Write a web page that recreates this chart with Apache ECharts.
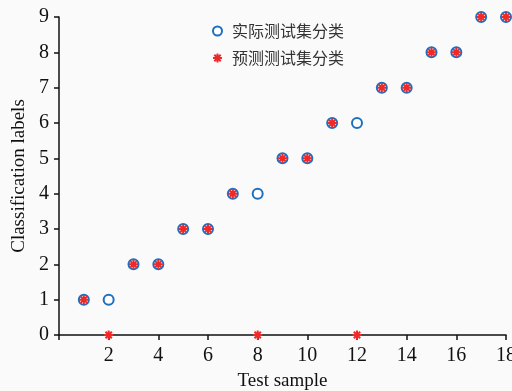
<!DOCTYPE html>
<html>
<head>
<meta charset="utf-8">
<script src="https://cdn.jsdelivr.net/npm/echarts@6/dist/echarts.min.js"></script>
<style>
  html, body { margin: 0; padding: 0; background: #fafafa; }
  #chart { width: 512px; height: 391px; }
</style>
</head>
<body>
<div id="chart"></div>
<script>
// test samples and their classes
var samples = [1, 2, 3, 4, 5, 6, 7, 8, 9, 10, 11, 12, 13, 14, 15, 16, 17, 18];
var actualClass = [1, 1, 2, 2, 3, 3, 4, 4, 5, 5, 6, 6, 7, 7, 8, 8, 9, 9];
var predictedClass = [1, 0, 2, 2, 3, 3, 4, 0, 5, 5, 6, 0, 7, 7, 8, 8, 9, 9];
var seriesNames = ['实际测试集分类', '预测测试集分类'];

// asterisk drawn as four thin bars
var star = 'path://M-1.1,-5L1.1,-5L1.1,5L-1.1,5Z' +
    'M-5,-1.1L5,-1.1L5,1.1L-5,1.1Z' +
    'M2.76,-4.31L4.31,-2.76L-2.76,4.31L-4.31,2.76Z' +
    'M4.31,2.76L2.76,4.31L-4.31,-2.76L-2.76,-4.31Z';

function pairs(ys) {
    return samples.map(function (x, i) { return [x, ys[i]]; });
}

var myChart = echarts.init(document.getElementById('chart'));
var serif = 'Liberation Serif, Times New Roman, serif';
var option = {
    backgroundColor: '#fafafa',
    animation: false,
    grid: { left: 59, right: 6, top: 17, bottom: 56, outerBoundsMode: 'none', containLabel: false },
    legend: {
        orient: 'vertical',
        left: 207,
        top: 18,
        itemGap: 11,
        itemWidth: 9,
        itemHeight: 9,
        textStyle: { fontFamily: 'Noto Sans CJK SC', fontSize: 16, color: '#333', padding: [0, 0, 0, 5] },
        data: [
            { name: seriesNames[0], icon: 'emptyCircle', itemStyle: { borderWidth: 1.5 } },
            { name: seriesNames[1], icon: star }
        ]
    },
    xAxis: {
        type: 'value',
        min: 0, max: 18, interval: 2,
        name: 'Test sample',
        nameLocation: 'middle',
        nameGap: 37,
        nameTextStyle: { fontFamily: serif, fontSize: 19, color: '#111' },
        axisLine: { lineStyle: { color: '#111', width: 1.5 } },
        axisTick: { length: 5, lineStyle: { color: '#111', width: 1.5 } },
        axisLabel: {
            fontFamily: serif, fontSize: 20, color: '#111', margin: 11,
            formatter: function (v) { return v === 0 ? '' : v; }
        },
        splitLine: { show: false }
    },
    yAxis: {
        type: 'value',
        min: 0, max: 9, interval: 1,
        name: 'Classification labels',
        nameLocation: 'middle',
        nameGap: 30,
        nameTextStyle: { fontFamily: serif, fontSize: 19, color: '#111' },
        axisLine: { show: true, lineStyle: { color: '#111', width: 1.5 } },
        axisTick: { show: true, length: 5, lineStyle: { color: '#111', width: 1.5 } },
        axisLabel: { fontFamily: serif, fontSize: 20, color: '#111', margin: 10 },
        splitLine: { show: false }
    },
    series: [
        {
            name: seriesNames[0],
            type: 'scatter',
            symbol: 'emptyCircle',
            symbolSize: 10,
            itemStyle: { color: '#1d6fc0', borderColor: '#1d6fc0', borderWidth: 1.6, opacity: 1 },
            data: pairs(actualClass)
        },
        {
            name: seriesNames[1],
            type: 'scatter',
            symbol: star,
            symbolSize: 9,
            itemStyle: { color: '#f02828', opacity: 1 },
            data: pairs(predictedClass)
        }
    ]
};
myChart.setOption(option);
</script>
</body>
</html>
